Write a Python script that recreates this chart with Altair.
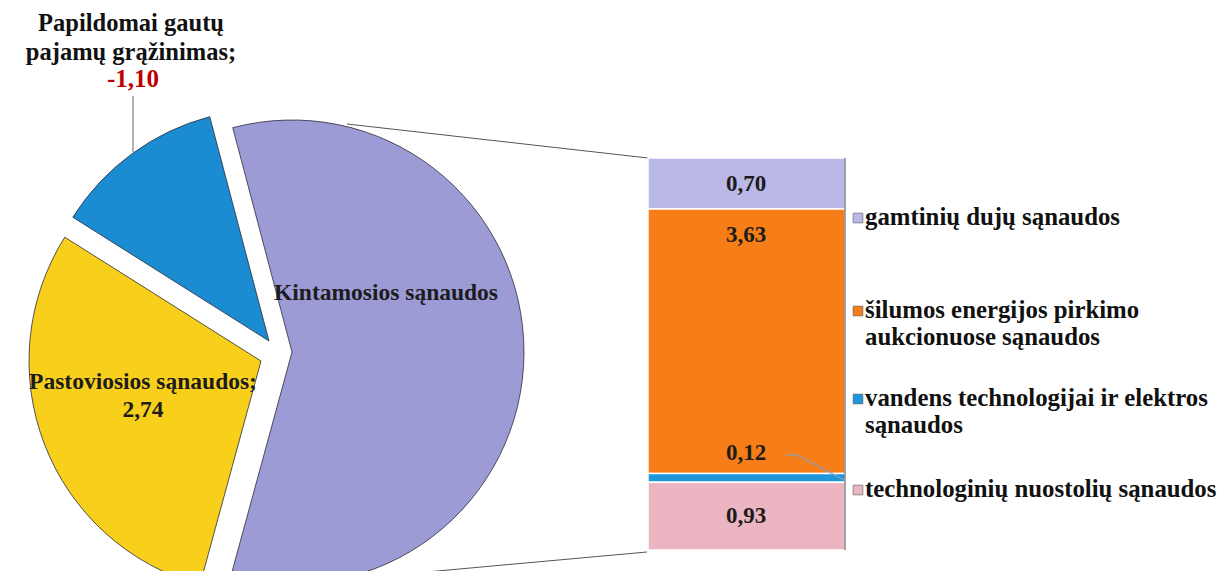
import math
import altair as alt

# ---------------- data ----------------
pie_categories = ["Kintamosios sąnaudos", "Pastoviosios sąnaudos",
                  "Papildomai gautų pajamų grąžinimas"]
bar_categories = ["gamtinių dujų sąnaudos",
                  "šilumos energijos pirkimo aukcionuose sąnaudos",
                  "vandens technologijai ir elektros sąnaudos",
                  "technologinių nuostolių sąnaudos"]
bar_values = [0.70, 3.63, 0.12, 0.93]
pie_values = [round(sum(bar_values), 2), 2.74, -1.10]

title_lines = ["Papildomai gautų", "pajamų grąžinimas;"]
legend_lines = [["gamtinių dujų sąnaudos"],
                ["šilumos energijos pirkimo", "aukcionuose sąnaudos"],
                ["vandens technologijai ir elektros", "sąnaudos"],
                ["technologinių nuostolių sąnaudos"]]

pie_colors = ["#9d9bd6", "#f8cf1a", "#1b8bd2"]
bar_colors = ["#bab8e6", "#f67d18", "#1e96dc", "#ebb5c1"]

pie_records = [{"category": c, "value": v, "order": i}
               for i, (c, v) in enumerate(zip(pie_categories, pie_values))]
bar_records = [{"category": c, "value": v, "order": i}
               for i, (c, v) in enumerate(zip(bar_categories, bar_values))]
legend_records = [{"category": c, "lines": l, "order": i}
                  for i, (c, l) in enumerate(zip(bar_categories, legend_lines))]

# ---------------- layout ----------------
OFF = 8  # page margin
FONT = "Liberation Serif"
W, H = 1216, 563
R = 232
start_angle = math.radians(-14.8)

color_scale = alt.Scale(domain=pie_categories + bar_categories,
                        range=pie_colors + bar_colors)
theta_scale = alt.Scale(range=[start_angle, start_angle + 2 * math.pi])
y_scale = alt.Scale(range=[550 - OFF, 158 - OFF], zero=True, nice=False)

fmt = "replace(replace(format(datum.value, '.2f'), '.', ','), '\u2212', '-')"

pie_base = (
    alt.Chart(alt.Data(values=pie_records))
    .transform_calculate(size="abs(datum.value)", label=fmt)
)

slice_centers = [(292, 352), (261, 361), (269, 341)]
layers = []

# connector lines (pie -> bar)
layers.append(alt.Chart(alt.Data(values=[{}])).mark_rule(color="#555555", strokeWidth=1).encode(
    x=alt.value(347 - OFF), y=alt.value(124 - OFF), x2=alt.value(648 - OFF), y2=alt.value(158 - OFF)))
layers.append(alt.Chart(alt.Data(values=[{}])).mark_rule(color="#555555", strokeWidth=1).encode(
    x=alt.value(360 - OFF), y=alt.value(578 - OFF), x2=alt.value(647 - OFF), y2=alt.value(552 - OFF)))

for i, (cx, cy) in enumerate(slice_centers):
    shown = f"datum.order == {i}"
    layers.append(
        pie_base
        .mark_arc(radius=R, stroke="#2b2b3a", strokeWidth=0.8)
        .encode(
            theta=alt.Theta("size:Q", stack=True, scale=theta_scale),
            order=alt.Order("order:Q", sort="ascending"),
            color=alt.Color("category:N", scale=color_scale, legend=None),
            fillOpacity=alt.condition(shown, alt.value(1), alt.value(0)),
            strokeOpacity=alt.condition(shown, alt.value(1), alt.value(0)),
            x=alt.value(cx - OFF),
            y=alt.value(cy - OFF),
        )
    )

# pie labels
layers.append(
    pie_base.transform_filter("datum.order == 0")
    .mark_text(font=FONT, fontWeight="bold", fontSize=23.5, color="#1c1c1c", baseline="alphabetic")
    .encode(text="category:N", x=alt.value(386 - OFF), y=alt.value(300 - OFF))
)
layers.append(
    pie_base.transform_filter("datum.order == 1")
    .transform_calculate(txt="[datum.category + ';', datum.label]")
    .mark_text(font=FONT, fontWeight="bold", fontSize=23.5, color="#1c1c1c",
               baseline="alphabetic", lineHeight=28)
    .encode(text="txt:N", x=alt.value(143 - OFF), y=alt.value(389 - OFF))
)
layers.append(
    alt.Chart(alt.Data(values=[{"t": title_lines}]))
    .mark_text(font=FONT, fontWeight="bold", fontSize=24.5, color="#111111",
               baseline="alphabetic", lineHeight=29)
    .encode(text="t:N", x=alt.value(131 - OFF), y=alt.value(31 - OFF))
)
layers.append(
    pie_base.transform_filter("datum.order == 2")
    .mark_text(font=FONT, fontWeight="bold", fontSize=25, color="#c00000", baseline="alphabetic")
    .encode(text="label:N", x=alt.value(133 - OFF), y=alt.value(87 - OFF))
)
layers.append(alt.Chart(alt.Data(values=[{}])).mark_rule(color="#666666", strokeWidth=1).encode(
    x=alt.value(133 - OFF), y=alt.value(96 - OFF), x2=alt.value(133 - OFF), y2=alt.value(152 - OFF)))

# stacked bar
bar_base = (
    alt.Chart(alt.Data(values=bar_records))
    .transform_stack(stack="value", groupby=[], as_=["y0", "y1"],
                     sort=[alt.SortField("order", order="descending")])
    .transform_calculate(mid="(datum.y0 + datum.y1) / 2", label=fmt)
)
layers.append(
    bar_base.mark_rect(stroke="white", strokeWidth=1.5).encode(
        x=alt.value(648 - OFF), x2=alt.value(845 - OFF),
        y=alt.Y("y0:Q", scale=y_scale, axis=None), y2="y1:Q",
        color=alt.Color("category:N", scale=color_scale, legend=None),
    )
)
# thin dark right edge of the bar
layers.append(alt.Chart(alt.Data(values=[{}])).mark_rule(color="#4a4a5a", strokeWidth=1).encode(
    x=alt.value(845 - OFF), y=alt.value(158 - OFF), x2=alt.value(845 - OFF), y2=alt.value(550 - OFF)))

lbl_kw = dict(font=FONT, fontWeight="bold", fontSize=23, color="#1c1c1c", baseline="middle")
bx = 746 - OFF
layers.append(bar_base.transform_filter("datum.order == 0 || datum.order == 3").mark_text(**lbl_kw).encode(
    text="label:N", x=alt.value(bx), y=alt.Y("mid:Q", scale=y_scale, axis=None)))
layers.append(bar_base.transform_filter("datum.order == 1").mark_text(dy=26, **lbl_kw).encode(
    text="label:N", x=alt.value(bx), y=alt.Y("y1:Q", scale=y_scale, axis=None)))
layers.append(bar_base.transform_filter("datum.order == 2").mark_text(dy=-20, **lbl_kw).encode(
    text="label:N", x=alt.value(bx), y=alt.Y("y1:Q", scale=y_scale, axis=None)))
# leader for 0,12
layers.append(alt.Chart(alt.Data(values=[{}])).mark_rule(color="#8aa2bb", strokeWidth=1.2).encode(
    x=alt.value(786 - OFF), y=alt.value(455 - OFF), x2=alt.value(797 - OFF), y2=alt.value(455 - OFF)))
layers.append(alt.Chart(alt.Data(values=[{}])).mark_rule(color="#8aa2bb", strokeWidth=1.2).encode(
    x=alt.value(797 - OFF), y=alt.value(455 - OFF), x2=alt.value(844 - OFF), y2=alt.value(480 - OFF)))

# custom legend
legend_y = [225, 318, 406, 497]
for i, ly in enumerate(legend_y):
    base = alt.Chart(alt.Data(values=legend_records)).transform_filter(f"datum.order == {i}")
    layers.append(base.mark_square(size=95, opacity=1, stroke="#555555", strokeWidth=0.6).encode(
        x=alt.value(858 - OFF), y=alt.value(ly - 7 - OFF),
        color=alt.Color("category:N", scale=color_scale, legend=None)))
    layers.append(base.mark_text(font=FONT, fontWeight="bold", fontSize=24.8, color="#111111",
                                 align="left", baseline="alphabetic", lineHeight=27).encode(
        text="lines:N", x=alt.value(865 - OFF), y=alt.value(ly - OFF)))

chart = (
    alt.layer(*layers)
    .properties(width=W, height=H, padding=0, autosize="none", background="white")
    .configure_view(stroke=None)
)

chart.save("out.html", embed_options={"renderer": "svg", "actions": False})
